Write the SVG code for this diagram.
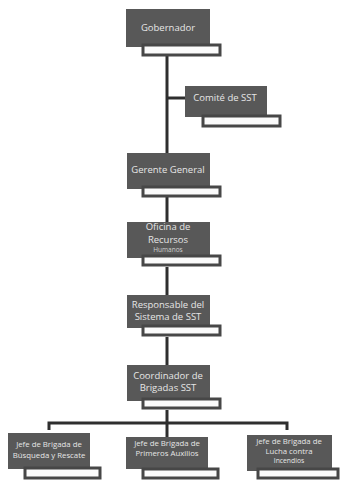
<svg xmlns="http://www.w3.org/2000/svg" width="345" height="493" viewBox="0 0 345 493">
<style>
.box{fill:#585858;}
.sub{fill:#fbfbfb;stroke:#474747;stroke-width:3;}
.t{font-family:"Open Sans","Liberation Sans",sans-serif;fill:#e6e6e6;text-anchor:middle;font-size:9.5px;}
.s{font-size:7.8px;}
.line{stroke:#2e2e2e;stroke-width:3;fill:none;}
</style>
<rect width="345" height="493" fill="#ffffff"/>
<g id="connectors">
<line class="line" x1="167" y1="56" x2="167" y2="155"/>
<line class="line" x1="167" y1="98" x2="186" y2="98"/>
<line class="line" x1="167" y1="197" x2="167" y2="223"/>
<line class="line" x1="167" y1="267" x2="167" y2="296"/>
<line class="line" x1="167" y1="337" x2="167" y2="366"/>
<line class="line" x1="167" y1="410" x2="167" y2="439"/>
<polyline class="line" points="49,430 49,423 287,423 287,430"/>
</g>
<g id="gobernador">
<rect class="box" x="126" y="9" width="84" height="38"/>
<rect class="sub" x="143" y="45" width="77" height="10"/>
<text class="t" x="168" y="31">Gobernador</text>
</g>
<g id="comite">
<rect class="box" x="185" y="86" width="82" height="31"/>
<rect class="sub" x="203" y="116" width="77" height="10"/>
<text class="t" x="225" y="101">Comité de SST</text>
</g>
<g id="gerente">
<rect class="box" x="127" y="153" width="83" height="36"/>
<rect class="sub" x="143" y="187" width="77" height="9"/>
<text class="t" x="168" y="173">Gerente General</text>
</g>
<g id="oficina">
<rect class="box" x="127" y="222" width="83" height="36"/>
<rect class="sub" x="143" y="256" width="77" height="9"/>
<text class="t" x="168" y="230">Oficina de</text>
<text class="t" x="168" y="243">Recursos</text>
<text class="t" x="168" y="252" style="font-size:6.5px;fill:#cfcfcf">Humanos</text>
</g>
<g id="responsable">
<rect class="box" x="127" y="295" width="83" height="33"/>
<rect class="sub" x="143" y="326" width="77" height="9"/>
<text class="t" x="168" y="308">Responsable del</text>
<text class="t" x="168" y="320">Sistema de SST</text>
</g>
<g id="coordinador">
<rect class="box" x="127" y="365" width="83" height="36"/>
<rect class="sub" x="143" y="399" width="77" height="9"/>
<text class="t" x="168" y="379">Coordinador de</text>
<text class="t" x="168" y="391">Brigadas SST</text>
</g>
<g id="busqueda">
<rect class="box" x="8" y="433" width="82" height="36"/>
<rect class="sub" x="25" y="468" width="75" height="10"/>
<text class="t s" x="49" y="447">Jefe de Brigada de</text>
<text class="t s" x="49" y="458">Búsqueda y Rescate</text>
</g>
<g id="auxilios">
<rect class="box" x="126" y="437" width="82" height="32"/>
<rect class="sub" x="143" y="469" width="75" height="9"/>
<text class="t s" x="167" y="446">Jefe de Brigada de</text>
<text class="t s" x="167" y="456">Primeros Auxilios</text>
</g>
<g id="incendios">
<rect class="box" x="247" y="435" width="85" height="36"/>
<rect class="sub" x="258" y="469" width="80" height="9"/>
<text class="t s" x="289" y="444">Jefe de Brigada de</text>
<text class="t s" x="289" y="454">Lucha contra</text>
<text class="t" x="289" y="463" style="font-size:6.8px">Incendios</text>
</g>
</svg>
